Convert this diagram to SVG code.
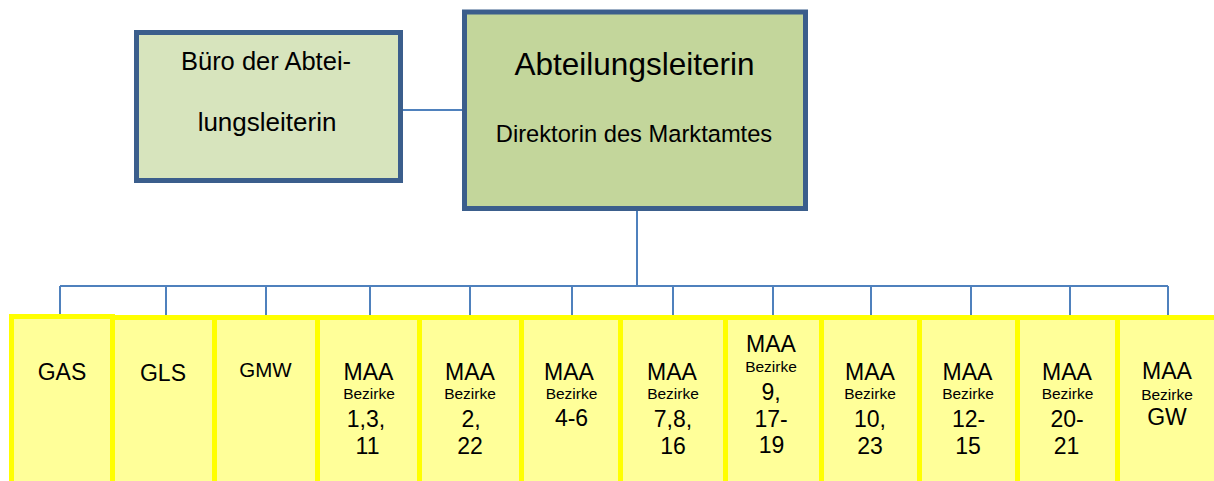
<svg xmlns="http://www.w3.org/2000/svg" width="1214" height="481" viewBox="0 0 1214 481">
<style>
.t{font-family:"Liberation Sans",Arial,sans-serif;fill:#000;text-anchor:middle}
.conn{stroke:#4F81BD;stroke-width:2;fill:none}
.unit{fill:#FFFF99;stroke:#FFFF00;stroke-width:5}
.big{font-size:23px}
.sm{font-size:15.5px}
</style>
<rect width="1214" height="481" fill="#fff"/>
<g id="connectors">
<path class="conn" d="M403 110H462M637 211V286M60 286H1168M60 286V316M166 286V316M266 286V316M370 286V316M470 286V316M572 286V316M673 286V316M773 286V316M871 286V316M971 286V316M1070 286V316M1168 286V316"/>
</g>
<g id="buero">
<rect x="136.5" y="32.5" width="264" height="148" fill="#D7E4BD" stroke="#3B5E8C" stroke-width="5"/>
<text class="t" x="266" y="70" font-size="25.5">Büro der Abtei-</text>
<text class="t" x="267" y="130.5" font-size="26">lungsleiterin</text>
</g>
<g id="leiterin">
<rect x="464.5" y="12" width="341" height="196.5" fill="#C3D69B" stroke="#3B5E8C" stroke-width="5"/>
<text class="t" x="634.5" y="75" font-size="31.5">Abteilungsleiterin</text>
<text class="t" x="634" y="141.5" font-size="23.7">Direktorin des Marktamtes</text>
</g>
<g id="gas">
<rect class="unit" x="11.5" y="316.5" width="101" height="200"/>
<text class="t big" x="62" y="380">GAS</text>
</g>
<g id="gls">
<rect class="unit" x="112.5" y="317.5" width="102" height="200"/>
<text class="t big" x="163" y="381">GLS</text>
</g>
<g id="gmw">
<rect class="unit" x="214.5" y="317.5" width="103" height="200"/>
<text class="t" x="265.5" y="377" font-size="20.5">GMW</text>
</g>
<g id="maa1">
<rect class="unit" x="317.5" y="317.5" width="102" height="200"/>
<text class="t big" x="368.5" y="380">MAA</text>
<text class="t sm" x="369" y="399">Bezirke</text>
<text class="t big" x="366" y="427">1,3,</text>
<text class="t big" x="367.5" y="454">11</text>
</g>
<g id="maa2">
<rect class="unit" x="419.5" y="317.5" width="102" height="200"/>
<text class="t big" x="470" y="380">MAA</text>
<text class="t sm" x="470" y="399">Bezirke</text>
<text class="t big" x="471" y="427">2,</text>
<text class="t big" x="470" y="454">22</text>
</g>
<g id="maa3">
<rect class="unit" x="521.5" y="317.5" width="99" height="200"/>
<text class="t big" x="569" y="380">MAA</text>
<text class="t sm" x="571.5" y="399">Bezirke</text>
<text class="t big" x="571.5" y="426">4-6</text>
</g>
<g id="maa4">
<rect class="unit" x="620.5" y="317.5" width="105" height="200"/>
<text class="t big" x="672" y="380">MAA</text>
<text class="t sm" x="673" y="399">Bezirke</text>
<text class="t big" x="673" y="427">7,8,</text>
<text class="t big" x="673" y="454">16</text>
</g>
<g id="maa5">
<rect class="unit" x="725.5" y="317.5" width="96" height="200"/>
<text class="t big" x="771" y="352">MAA</text>
<text class="t sm" x="771" y="372">Bezirke</text>
<text class="t big" x="771" y="400">9,</text>
<text class="t big" x="771" y="427">17-</text>
<text class="t big" x="771.5" y="453">19</text>
</g>
<g id="maa6">
<rect class="unit" x="821.5" y="317.5" width="98" height="200"/>
<text class="t big" x="870" y="380">MAA</text>
<text class="t sm" x="870" y="399">Bezirke</text>
<text class="t big" x="870" y="427">10,</text>
<text class="t big" x="870" y="454">23</text>
</g>
<g id="maa7">
<rect class="unit" x="919.5" y="317.5" width="98" height="200"/>
<text class="t big" x="967.5" y="380">MAA</text>
<text class="t sm" x="968" y="399">Bezirke</text>
<text class="t big" x="968.5" y="427">12-</text>
<text class="t big" x="968" y="454">15</text>
</g>
<g id="maa8">
<rect class="unit" x="1017.5" y="317.5" width="100" height="200"/>
<text class="t big" x="1067" y="380">MAA</text>
<text class="t sm" x="1067.5" y="399">Bezirke</text>
<text class="t big" x="1067" y="427">20-</text>
<text class="t big" x="1066.5" y="454">21</text>
</g>
<g id="maagw">
<rect class="unit" x="1117.5" y="317.5" width="103" height="200"/>
<text class="t big" x="1167" y="379">MAA</text>
<text class="t sm" x="1167" y="400">Bezirke</text>
<text class="t big" x="1167" y="425">GW</text>
</g>
</svg>
